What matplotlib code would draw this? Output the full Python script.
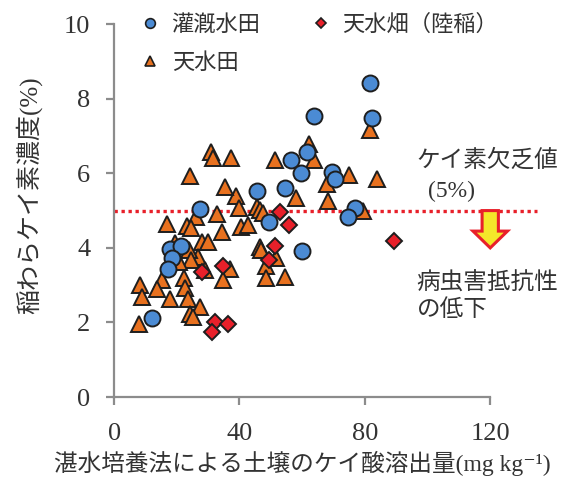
import numpy as np
import matplotlib.pyplot as plt
from matplotlib.lines import Line2D

# 灌漑水田
irr_x = [81.6, 82.3, 63.9, 61.4, 56.6, 59.5, 69.6, 70.6, 54.6, 45.5,
         77.0, 74.7, 49.3, 60.1, 27.4, 17.9, 21.4, 18.4, 17.3, 12.0]
irr_y = [8.43, 7.49, 7.53, 6.56, 6.35, 6.00, 6.04, 5.84, 5.61, 5.53,
         5.08, 4.83, 4.69, 3.91, 5.03, 3.96, 4.05, 3.72, 3.43, 2.13]

# 天水田
rain_x = [81.6, 62.3, 63.8, 51.3, 37.2, 75.0, 83.8, 68.0, 58.0, 68.3,
          38.8, 39.9, 79.3, 45.5, 46.5, 47.6, 40.5, 42.6, 46.5, 47.0,
          51.6, 30.9, 31.7, 24.2, 35.4, 32.8, 26.0, 34.3, 28.0, 29.9,
          26.9, 37.1, 48.4, 34.8, 48.5, 54.6, 29.0, 17.0, 23.2, 24.6,
          15.2, 22.4, 8.3, 8.8, 13.6, 22.6, 17.9, 23.5, 27.4, 24.2,
          25.3, 7.8, 19.4, 23.9, 24.6, 20.6]
rain_y = [7.16, 6.78, 6.35, 6.35, 6.40, 5.95, 5.86, 5.71, 5.35, 5.25,
          5.40, 5.08, 4.99, 5.10, 5.01, 4.94, 4.55, 4.61, 4.03, 3.94,
          3.72, 6.57, 6.40, 5.92, 5.64, 4.92, 4.84, 4.42, 4.16, 4.15,
          3.76, 3.44, 3.52, 3.14, 3.20, 3.23, 3.40, 4.65, 4.60, 4.54,
          3.14, 3.18, 3.00, 2.69, 2.90, 2.93, 2.63, 2.63, 2.42, 2.24,
          2.15, 1.97, 4.14, 3.94, 3.67, 3.63]

# 天水畑（陸稲）
upl_x = [52.9, 55.8, 51.3, 49.5, 89.3, 28.0, 34.8, 32.2, 36.4, 31.1]
upl_y = [4.97, 4.61, 4.05, 3.67, 4.18, 3.36, 3.51, 2.02, 1.96, 1.75]

threshold = 5.0
x_ticks = [0, 40, 80, 120]
y_ticks = [0, 2, 4, 6, 8, 10]

mixed = ['Liberation Serif', 'Noto Sans CJK JP', 'DejaVu Sans']
jp = ['Noto Sans CJK JP', 'DejaVu Sans']
txt = '#333333'
spine = '#8c8c8c'

fig = plt.figure(figsize=(5.85, 4.83), dpi=100)
ax = fig.add_axes([0.195, 0.178, 0.643, 0.772])

ax.plot(rain_x, rain_y, ls='none', marker='^', ms=11.5, mfc='#e8711f',
        mec='#1e1e1e', mew=1.4, label='天水田', zorder=3)
ax.plot(upl_x, upl_y, ls='none', marker='D', ms=8, mfc='#e8202a',
        mec='#1e1e1e', mew=1.4, label='天水畑（陸稲）', zorder=4)
ax.plot(irr_x, irr_y, ls='none', marker='o', ms=11.5, mfc='#4b8bd4',
        mec='#1e1e1e', mew=1.4, label='灌漑水田', zorder=5)

# ケイ素欠乏値のライン
ax.plot([0, 135], [threshold, threshold], color='#e8202a', lw=2.4,
        ls=(0, (1, 1.1)), clip_on=False, zorder=2)
ax.arrow(120, threshold, 0, -1.0, width=5.2, head_width=11, head_length=0.45,
         length_includes_head=True, fc='#f4e72a', ec='#e8202a', lw=2.2,
         clip_on=False, zorder=6)

ax.text(96.5, 6.35, 'ケイ素欠乏値', family=jp, fontsize=17, color=txt,
        va='center', ha='left')
ax.text(107.5, 5.5, '(5%)', family=mixed, fontsize=17, color=txt,
        va='center', ha='center')
ax.text(96.5, 3.05, '病虫害抵抗性', family=jp, fontsize=17, color=txt,
        va='center', ha='left')
ax.text(96.5, 2.35, 'の低下', family=jp, fontsize=17, color=txt,
        va='center', ha='left')

ax.set_xlim(0, 120)
ax.set_ylim(0, 10)
ax.set_xticks(x_ticks)
ax.set_yticks(y_ticks)
for s in ['top', 'right']:
    ax.spines[s].set_visible(False)
for s in ['left', 'bottom']:
    ax.spines[s].set_color(spine)
    ax.spines[s].set_linewidth(1.6)
ax.tick_params(direction='out', length=6, width=1.6, color=spine,
               labelcolor=txt, labelsize=19)
ax.tick_params(axis='x', pad=13)
ax.tick_params(axis='y', pad=11)
for lab in ax.get_xticklabels() + ax.get_yticklabels():
    lab.set_family(mixed)

ax.set_xlabel('湛水培養法による土壌のケイ酸溶出量(mg kg⁻¹)', family=mixed,
              fontsize=17, color=txt, labelpad=4)
ax.set_ylabel('稲わらケイ素濃度(%)', family=mixed, fontsize=18, color=txt,
              labelpad=10)
ax.yaxis.set_label_coords(-0.19, 0.54)

h = [Line2D([], [], ls='none', marker='o', ms=7, mfc='#4b8bd4', mec='#1e1e1e', mew=1.2),
     Line2D([], [], ls='none', marker='^', ms=7, mfc='#e8711f', mec='#1e1e1e', mew=1.2),
     Line2D([], [], ls='none', marker='D', ms=5.5, mfc='#e8202a', mec='#1e1e1e', mew=1.2)]
leg = ax.legend(h, ['灌漑水田', '天水田', '天水畑（陸稲）'], ncol=2,
                loc='upper left', bbox_to_anchor=(0.02, 1.085), frameon=False,
                prop={'family': jp, 'size': 16}, handlelength=0.8,
                handletextpad=0.55, columnspacing=2.3, labelspacing=0.7)
for t in leg.get_texts():
    t.set_color(txt)

fig.savefig('out.png', dpi=100)
